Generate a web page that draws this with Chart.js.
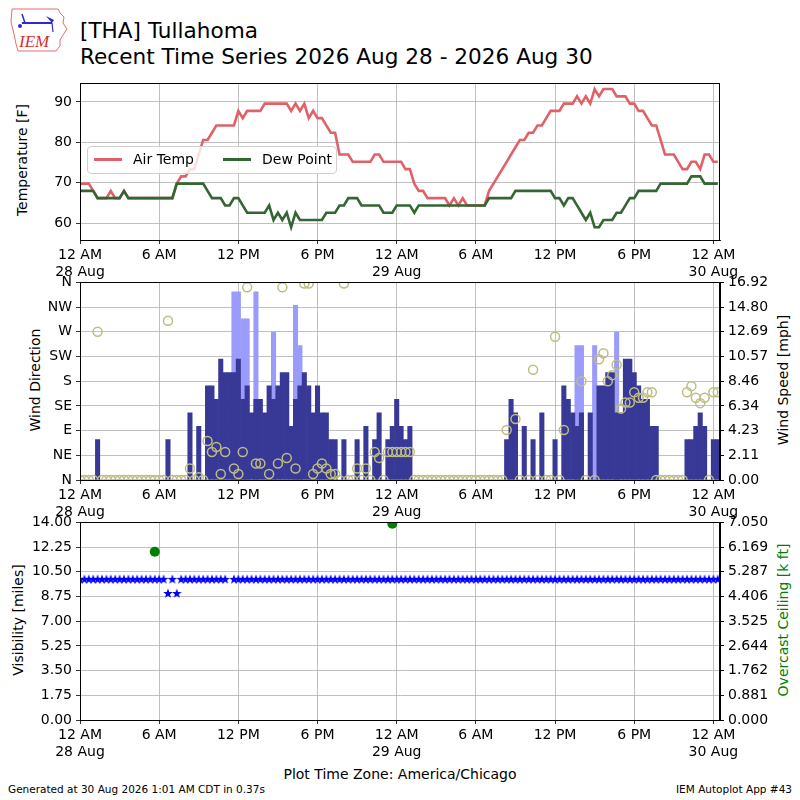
<!DOCTYPE html>
<html>
<head>
<meta charset="utf-8">
<title>[THA] Tullahoma</title>
<script src="https://cdn.jsdelivr.net/npm/chart.js@4.4.1/dist/chart.umd.min.js"></script>
<style>
  html, body { margin: 0; padding: 0; background: #fff; }
  #page { position: relative; width: 800px; height: 800px; overflow: hidden; font-family: 'DejaVu Sans', sans-serif; color: #000; background: #fff; }
  .panel { position: absolute; left: 0; }
  .txt { position: absolute; white-space: nowrap; }
  .vlabel { position: absolute; white-space: nowrap; font-size: 14px; transform: translate(-50%, -50%) rotate(-90deg); }
  #legend { position: absolute; left: 87px; top: 146px; width: 248px; height: 26px; border: 1px solid #d0d0d0; border-radius: 4px; background: rgba(255,255,255,0.8); z-index: 5; font-size: 14px; }
  #legend .ln { position: absolute; top: 11px; width: 28px; height: 3px; }
  #legend .lt { position: absolute; top: 4px; }
</style>
</head>
<body>
<div id="page">
  <svg class="txt" style="left:8px;top:4px" width="62" height="50" viewBox="0 0 62 50">
    <path d="M4 5 L50 5 L52 9 L56 13 L55 19 L59 25 L55 31 L52 36 L52 42 L48 47 L10 47 L8 40 L6 30 L3 18 Z" fill="none" stroke="#e04848" stroke-width="0.8"/>
    <line x1="14" y1="19" x2="44" y2="19" stroke="#2a2ad0" stroke-width="2"/>
    <line x1="14" y1="10" x2="17" y2="19" stroke="#2a2ad0" stroke-width="1.5"/>
    <path d="M38 12 L46 16 L44 19 Z" fill="#2a2ad0"/>
    <circle cx="12" cy="22" r="2" fill="#2a2ad0"/>
    <line x1="44" y1="19" x2="45" y2="28" stroke="#2a2ad0" stroke-width="1.2"/>
    <text x="11" y="43" font-family="Liberation Serif" font-style="italic" font-size="17" fill="#d83030">IEM</text>
  </svg>
  <div class="txt" style="left:80px;top:18px;font-size:21.6px;">[THA] Tullahoma</div>
  <div class="txt" style="left:80px;top:44px;font-size:21.6px;">Recent Time Series 2026 Aug 28 - 2026 Aug 30</div>

  <canvas id="tempChart" class="panel" style="top:71px;z-index:1" width="800" height="210"></canvas>
  <canvas id="windChart" class="panel" style="top:270px;z-index:2" width="800" height="251"></canvas>
  <canvas id="visChart" class="panel" style="top:510px;z-index:3" width="800" height="251"></canvas>

  <div id="legend">
    <div class="ln" style="left:6px;background:#e06168"></div>
    <div class="lt" style="left:45px">Air Temp</div>
    <div class="ln" style="left:135px;background:#336633"></div>
    <div class="lt" style="left:174px">Dew Point</div>
  </div>

  <div class="vlabel" style="left:22px;top:160px">Temperature [F]</div>
  <div class="vlabel" style="left:35px;top:380px">Wind Direction</div>
  <div class="vlabel" style="left:783px;top:380px">Wind Speed [mph]</div>
  <div class="vlabel" style="left:18px;top:620px">Visibility [miles]</div>
  <div class="vlabel" style="left:783px;top:620px;color:#008000">Overcast Ceiling [k ft]</div>

  <div class="txt" style="left:0;width:800px;text-align:center;top:766px;font-size:14px;">Plot Time Zone: America/Chicago</div>
  <div class="txt" style="left:8px;top:783px;font-size:10.5px;">Generated at 30 Aug 2026 1:01 AM CDT in 0.37s</div>
  <div class="txt" style="right:8px;top:783px;font-size:10.5px;">IEM Autoplot App #43</div>
</div>

<script>
// observations every 20 minutes starting 28 Aug 12 AM (x axis in hours)
const OBS_STEP_H = 20 / 60;
const X_MAX_H = 48.5;
const KT_TO_MPH = 1.15078;

const hourTicks = [0, 6, 12, 18, 24, 30, 36, 42, 48];
const hourTickLabels = [['12 AM', '28 Aug'], '6 AM', '12 PM', '6 PM', ['12 AM', '29 Aug'], '6 AM', '12 PM', '6 PM', ['12 AM', '30 Aug']];

const tempTicks = [60, 70, 80, 90];
const dirTicks = [0, 45, 90, 135, 180, 225, 270, 315, 360];
const dirTickLabels = ['N', 'NE', 'E', 'SE', 'S', 'SW', 'W', 'NW', 'N'];
const speedTicks = [0, 2.115, 4.23, 6.345, 8.46, 10.575, 12.69, 14.805, 16.92];
const speedTickLabels = ['0.00', '2.11', '4.23', '6.34', '8.46', '10.57', '12.69', '14.80', '16.92'];
const visTicks = [0, 1.75, 3.5, 5.25, 7, 8.75, 10.5, 12.25, 14];
const visTickLabels = ['0.00', '1.75', '3.50', '5.25', '7.00', '8.75', '10.50', '12.25', '14.00'];
const ceilTicks = [0, 0.88125, 1.7625, 2.64375, 3.525, 4.40625, 5.2875, 6.16875, 7.05];
const ceilTickLabels = ['0.000', '0.881', '1.762', '2.644', '3.525', '4.406', '5.287', '6.169', '7.050'];

const tempF = [
    69.8, 69.8, 69.8, 68, 66.2, 66.2, 66.2, 68, 66.2, 66.2,
    68, 66.2, 66.2, 66.2, 66.2, 66.2, 66.2, 66.2, 66.2, 66.2,
    66.2, 66.2, 69.8, 71.6, 71.6, 73.4, 73.4, 77, 80.6, 80.6,
    82.4, 84.2, 84.2, 84.2, 84.2, 84.2, 87.8, 86, 87.8, 87.8,
    87.8, 87.8, 89.6, 89.6, 89.6, 89.6, 89.6, 89.6, 87.8, 89.6,
    87.8, 89.6, 86, 87.8, 86, 86, 84.2, 82.4, 82.4, 77,
    77, 77, 75.2, 75.2, 75.2, 75.2, 75.2, 77, 77, 75.2,
    75.2, 75.2, 75.2, 75.2, 73.4, 73.4, 69.8, 68, 68, 66.2,
    66.2, 66.2, 66.2, 66.2, 64.4, 66.2, 64.4, 66.2, 64.4, 64.4,
    64.4, 64.4, 64.4, 68, 69.8, 71.6, 73.4, 75.2, 77, 78.8,
    80.6, 80.6, 82.4, 82.4, 84.2, 84.2, 86, 87.8, 87.8, 87.8,
    89.6, 89.6, 89.6, 91.4, 89.6, 91.4, 89.6, 93.2, 91.4, 93.2,
    93.2, 93.2, 91.4, 91.4, 91.4, 89.6, 89.6, 87.8, 87.8, 86,
    84.2, 84.2, 80.6, 77, 77, 77, 75.2, 73.4, 73.4, 75.2,
    75.2, 73.4, 77, 77, 75.2, 75.2
];

const dewF = [
    68, 68, 68, 68, 66.2, 66.2, 66.2, 66.2, 66.2, 66.2,
    68, 66.2, 66.2, 66.2, 66.2, 66.2, 66.2, 66.2, 66.2, 66.2,
    66.2, 66.2, 69.8, 69.8, 69.8, 69.8, 69.8, 69.8, 69.8, 68,
    66.2, 66.2, 66.2, 64.4, 64.4, 66.2, 66.2, 64.4, 62.6, 62.6,
    62.6, 62.6, 62.6, 64.4, 60.8, 62.6, 60.8, 62.6, 59, 62.6,
    60.8, 60.8, 60.8, 60.8, 60.8, 60.8, 62.6, 62.6, 62.6, 64.4,
    64.4, 66.2, 66.2, 66.2, 64.4, 64.4, 64.4, 64.4, 64.4, 62.6,
    62.6, 62.6, 64.4, 64.4, 64.4, 64.4, 62.6, 64.4, 64.4, 64.4,
    64.4, 64.4, 64.4, 64.4, 64.4, 64.4, 64.4, 64.4, 64.4, 64.4,
    64.4, 64.4, 64.4, 66.2, 66.2, 66.2, 66.2, 66.2, 66.2, 68,
    68, 68, 68, 68, 68, 68, 68, 68, 66.2, 66.2,
    64.4, 66.2, 66.2, 64.4, 62.6, 60.8, 62.6, 59, 59, 60.8,
    60.8, 60.8, 62.6, 62.6, 64.4, 66.2, 66.2, 68, 68, 68,
    68, 68, 69.8, 69.8, 69.8, 69.8, 69.8, 69.8, 69.8, 71.6,
    71.6, 71.6, 69.8, 69.8, 69.8, 69.8
];

const windKt = [
    0, 0, 0, 0, 3, 0, 0, 0, 0, 0,
    0, 0, 0, 0, 0, 0, 0, 0, 0, 0,
    3, 0, 0, 0, 0, 5, 0, 4, 0, 7,
    7, 6, 9, 8, 8, 8, 9, 6, 7, 5,
    6, 6, 5, 7, 6, 7, 8, 8, 4, 6,
    7, 8, 7, 5, 7, 5, 5, 3, 3, 0,
    3, 0, 0, 3, 0, 4, 0, 3, 5, 0,
    3, 4, 6, 4, 3, 4, 0, 0, 0, 0,
    0, 0, 0, 0, 0, 0, 0, 0, 0, 0,
    0, 0, 0, 0, 0, 0, 0, 3, 6, 5,
    0, 4, 0, 3, 0, 5, 0, 0, 3, 0,
    7, 6, 5, 4, 5, 0, 5, 0, 7, 7,
    8, 8, 5, 5, 9, 9, 8, 7, 6, 6,
    4, 4, 0, 0, 0, 0, 0, 0, 3, 3,
    4, 5, 4, 0, 3, 3
];

// gusts only reported at a few observations
const gustIndex = [35, 36, 37, 38, 40, 44, 49, 50, 113, 114, 117, 122];
const gustKt = [14, 14, 12, 12, 14, 11, 13, 10, 10, 10, 10, 11];

const dirDeg = [
    0, 0, 0, 0, 270, 0, 0, 0, 0, 0,
    0, 0, 0, 0, 0, 0, 0, 0, 0, 0,
    290, 0, 0, 0, 0, 21, 0, 5, 0, 71,
    51, 60, 11, 51, null, 21, 11, 51, 351, null,
    30, 30, null, 11, null, 30, 351, 40, null, 21,
    null, 358, 358, 11, 21, 30, 21, 11, 11, 0,
    358, 0, 0, 21, 0, 21, 0, 51, 40, 0,
    51, 51, 51, 51, 51, 51, 0, 0, 0, 0,
    0, 0, 0, 0, 0, 0, 0, 0, 0, 0,
    0, 0, 0, 0, 0, 0, 0, 91, null, 111,
    0, null, 0, 201, 0, null, 0, 0, 261, 0,
    91, null, null, null, 180, 0, null, 0, 220, 231,
    180, 191, 210, 130, 141, 141, 160, 150, 150, 160,
    160, 0, 0, 0, 0, 0, 0, 0, 160, 171,
    150, 140, 150, 0, 160, 160
];

const visMiles = [
    10, 10, 10, 10, 10, 10, 10, 10, 10, 10,
    10, 10, 10, 10, 10, 10, 10, 10, 10, 10,
    9, 10, 9, 10, 10, 10, 10, 10, 10, 10,
    10, 10, 10, 10, null, 10, 10, 10, 10, 10,
    10, 10, 10, 10, 10, 10, 10, 10, 10, 10,
    10, 10, 10, 10, 10, 10, 10, 10, 10, 10,
    10, 10, 10, 10, 10, 10, 10, 10, 10, 10,
    10, 10, 10, 10, 10, 10, 10, 10, 10, 10,
    10, 10, 10, 10, 10, 10, 10, 10, 10, 10,
    10, 10, 10, 10, 10, 10, 10, 10, 10, 10,
    10, 10, 10, 10, 10, 10, 10, 10, 10, 10,
    10, 10, 10, 10, 10, 10, 10, 10, 10, 10,
    10, 10, 10, 10, 10, 10, 10, 10, 10, 10,
    10, 10, 10, 10, 10, 10, 10, 10, 10, 10,
    10, 10, 10, 10, 10, 10
];

// overcast ceiling only reported twice
const ceilIndex = [17, 71];
const ceilKft = [6.0, 7.0];

const GRID = '#b0b0b0';
const TEMP_COLOR = '#e06168';
const DEW_COLOR = '#336633';
const WIND_COLOR = '#383896';
const GUST_COLOR = '#9b9bfa';
const DIR_COLOR = '#bdbd80';

Chart.defaults.font.family = "'DejaVu Sans', sans-serif";
Chart.defaults.font.size = 14;
Chart.defaults.color = '#000';

function series(values) {
    return values
        .map((v, i) => ({ x: i * OBS_STEP_H, y: v }))
        .filter((p) => p.y !== null);
}

function sparse(indexes, values, scale) {
    return indexes.map((idx, k) => ({ x: idx * OBS_STEP_H, y: values[k] * scale }));
}

function fixedTicks(values) {
    return (scale) => { scale.ticks = values.map((v) => ({ value: v })); };
}

function timeAxis() {
    return {
        type: 'linear',
        min: 0,
        max: X_MAX_H,
        offset: false,
        afterBuildTicks: fixedTicks(hourTicks),
        afterFit: (scale) => { scale.height = 41; },
        grid: { color: GRID, lineWidth: 0.8, tickLength: 4, tickColor: '#000', offset: false },
        border: { color: '#000', width: 1 },
        ticks: {
            autoSkip: false,
            maxRotation: 0,
            padding: 3,
            callback: (v, idx) => hourTickLabels[idx],
        },
    };
}

function sideAxis(position, min, max, ticks, labels, withGrid) {
    return {
        type: 'linear',
        position: position,
        min: min,
        max: max,
        afterBuildTicks: fixedTicks(ticks),
        afterFit: (scale) => { scale.width = 80; },
        grid: withGrid
            ? { color: GRID, lineWidth: 0.8, tickLength: 4, tickColor: '#000' }
            : { drawOnChartArea: false, tickLength: 4, tickColor: '#000' },
        border: { color: '#000', width: 1 },
        ticks: {
            autoSkip: false,
            padding: 4,
            callback: (v, idx) => labels[idx],
        },
    };
}

// white plot area underneath, black frame on top
const framePlugin = {
    id: 'frame',
    beforeDraw(chart) {
        const { ctx, chartArea: a } = chart;
        ctx.save();
        ctx.fillStyle = '#fff';
        ctx.fillRect(a.left, a.top, a.right - a.left, a.bottom - a.top);
        ctx.restore();
    },
    afterDraw(chart) {
        const { ctx, chartArea: a } = chart;
        ctx.save();
        ctx.strokeStyle = '#000';
        ctx.lineWidth = 1;
        ctx.strokeRect(Math.round(a.left) + 0.5, Math.round(a.top) + 0.5,
            Math.round(a.right - a.left) - 1, Math.round(a.bottom - a.top));
        ctx.restore();
    },
};

function makeStar(size, color) {
    const c = document.createElement('canvas');
    c.width = size;
    c.height = size;
    const g = c.getContext('2d');
    const R = size / 2;
    const r = R * 0.42;
    g.beginPath();
    for (let k = 0; k < 10; k++) {
        const rad = k % 2 ? r : R;
        const ang = -Math.PI / 2 + k * Math.PI / 5;
        g.lineTo(R + rad * Math.cos(ang), R + 0.6 + rad * Math.sin(ang));
    }
    g.closePath();
    g.fillStyle = color;
    g.fill();
    return c;
}

const baseOptions = {
    responsive: false,
    animation: false,
    events: [],
    layout: { padding: { top: 10, left: 0, right: 0, bottom: 0 } },
    plugins: { legend: { display: false }, tooltip: { enabled: false } },
};

new Chart(document.getElementById('tempChart'), {
    type: 'line',
    data: {
        datasets: [
            { label: 'Dew Point', data: series(dewF), borderColor: DEW_COLOR, borderWidth: 2.6, pointRadius: 0, tension: 0, order: 0 },
            { label: 'Air Temp', data: series(tempF), borderColor: TEMP_COLOR, borderWidth: 2.6, pointRadius: 0, tension: 0, order: 1 },
        ],
    },
    options: {
        ...baseOptions,
        // no right axis here, so keep the same plot width as the panels below
        layout: { padding: { top: 10, left: 0, right: 80, bottom: 0 } },
        scales: {
            x: timeAxis(),
            y: sideAxis('left', 55.85, 94.6, tempTicks, tempTicks.map(String), true),
        },
    },
    plugins: [framePlugin],
});

new Chart(document.getElementById('windChart'), {
    type: 'bar',
    data: {
        datasets: [
            {
                type: 'scatter', label: 'Wind Direction', data: series(dirDeg), yAxisID: 'yDir',
                pointStyle: 'circle', pointRadius: 4.5, borderWidth: 1.5,
                borderColor: DIR_COLOR, backgroundColor: 'rgba(0,0,0,0)', clip: 0, order: 0,
            },
            {
                label: 'Wind Speed', data: series(windKt.map((k) => k * KT_TO_MPH)), yAxisID: 'ySpeed',
                backgroundColor: WIND_COLOR, borderWidth: 0, grouped: false,
                barPercentage: 1, categoryPercentage: 1, order: 1,
            },
            {
                label: 'Wind Gust', data: sparse(gustIndex, gustKt, KT_TO_MPH), yAxisID: 'ySpeed',
                backgroundColor: GUST_COLOR, borderWidth: 0, grouped: false,
                barPercentage: 1, categoryPercentage: 1, order: 2,
            },
        ],
    },
    options: {
        ...baseOptions,
        scales: {
            x: timeAxis(),
            yDir: sideAxis('left', 0, 360, dirTicks, dirTickLabels, true),
            ySpeed: sideAxis('right', 0, 16.92, speedTicks, speedTickLabels, false),
        },
    },
    plugins: [framePlugin],
});

new Chart(document.getElementById('visChart'), {
    type: 'scatter',
    data: {
        datasets: [
            {
                label: 'Overcast Ceiling', data: sparse(ceilIndex, ceilKft, 1), yAxisID: 'yCeil',
                pointStyle: 'circle', pointRadius: 5, borderWidth: 0,
                backgroundColor: '#008000', clip: 0, order: 0,
            },
            {
                label: 'Visibility', data: series(visMiles), yAxisID: 'yVis',
                pointStyle: makeStar(10, '#0000ff'), clip: 0, order: 1,
            },
        ],
    },
    options: {
        ...baseOptions,
        scales: {
            x: timeAxis(),
            yVis: sideAxis('left', 0, 14, visTicks, visTickLabels, true),
            yCeil: sideAxis('right', 0, 7.05, ceilTicks, ceilTickLabels, false),
        },
    },
    plugins: [framePlugin],
});
</script>
</body>
</html>
